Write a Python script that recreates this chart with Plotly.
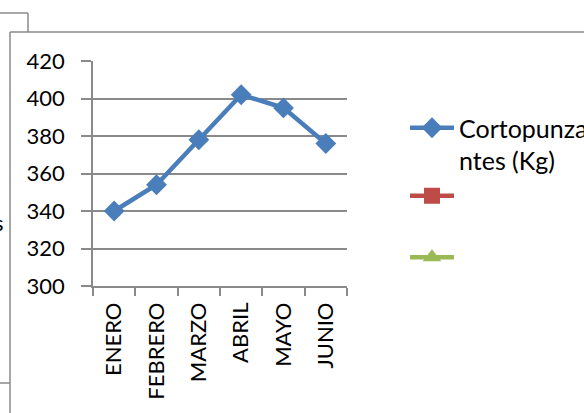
import plotly.graph_objects as go

months = ["ENERO", "FEBRERO", "MARZO", "ABRIL", "MAYO", "JUNIO"]
cortopunzantes = [340, 354, 378, 402, 395, 376]
serie2 = [None, None, None, None, None, None]
serie3 = [None, None, None, None, None, None]
series_name = "Cortopunza<br>ntes (Kg)"
y_ticks = [300, 320, 340, 360, 380, 400, 420]

W, H = 584, 413
L, R, T, B = 93, 347, 61, 286
GRID = "#8a8a8a"
FONT = "Lato"


def px(x):
    return (x - L) / (R - L)


def py(y):
    return (B - y) / (B - T)


fig = go.Figure()
fig.add_trace(go.Scatter(
    x=months, y=cortopunzantes, name=series_name, mode="lines+markers",
    legendgroup="g1",
    line=dict(color="#4A7EBB", width=4.5),
    marker=dict(symbol="diamond", size=16, color="#4A7EBB"),
))
fig.add_trace(go.Scatter(
    x=months, y=serie2, name="\u00a0", mode="lines+markers",
    legendgroup="g1",
    line=dict(color="#BE4B48", width=4.5),
    marker=dict(symbol="square", size=16, color="#BE4B48"),
))
fig.add_trace(go.Scatter(
    x=months, y=serie3, name="\u00a0", mode="lines+markers",
    legendgroup="g2",
    line=dict(color="#98B954", width=4.5),
    marker=dict(symbol="triangle-up", size=16, color="#98B954"),
))

shape_line = dict(color=GRID, width=1.5)
frame = [
    (0, 13, 28, 13), (28, 13, 28, 32),
    (10, 32, 600, 32), (10, 32, 10, 420),
    (0, 383, 10, 383),
]
shapes = [dict(type="line", xref="paper", yref="paper",
               x0=px(a), y0=py(b), x1=px(c), y1=py(d), line=shape_line)
          for a, b, c, d in frame]

fig.update_layout(
    width=W, height=H,
    margin=dict(l=L, r=W - R, t=T, b=H - B, autoexpand=False),
    paper_bgcolor="white", plot_bgcolor="white",
    font=dict(family=FONT, color="black"),
    shapes=shapes,
    showlegend=True,
    legend=dict(
        x=px(405), y=py(105), xanchor="left", yanchor="top",
        font=dict(family=FONT, size=25, color="black"),
        valign="top", itemwidth=44, bgcolor="rgba(0,0,0,0)",
        traceorder="grouped", tracegroupgap=26,
    ),
    annotations=[dict(
        text="s", xref="paper", yref="paper", x=px(6), y=py(222),
        xanchor="right", yanchor="middle", showarrow=False,
        font=dict(family=FONT, size=22, color="black"),
    )],
)

fig.update_xaxes(
    type="category", categoryorder="array", categoryarray=months,
    range=[-0.5, 5.5], tickson="boundaries", ticks="outside", ticklen=8,
    tickcolor=GRID, tickwidth=1.5, tickangle=-90, showgrid=False,
    showline=True, linecolor=GRID, linewidth=1.5,
    tickfont=dict(family=FONT, size=22, color="black"), ticklabelstandoff=6,
)
fig.update_yaxes(
    range=[300, 420], tickvals=y_ticks, ticks="outside", ticklen=10,
    tickcolor=GRID, tickwidth=1.5, showgrid=True, gridcolor=GRID, gridwidth=1.5,
    showline=True, linecolor=GRID, linewidth=1.5, zeroline=False,
    tickfont=dict(family=FONT, size=22, color="black"), ticklabelstandoff=12,
)

fig.write_html("out.html")
